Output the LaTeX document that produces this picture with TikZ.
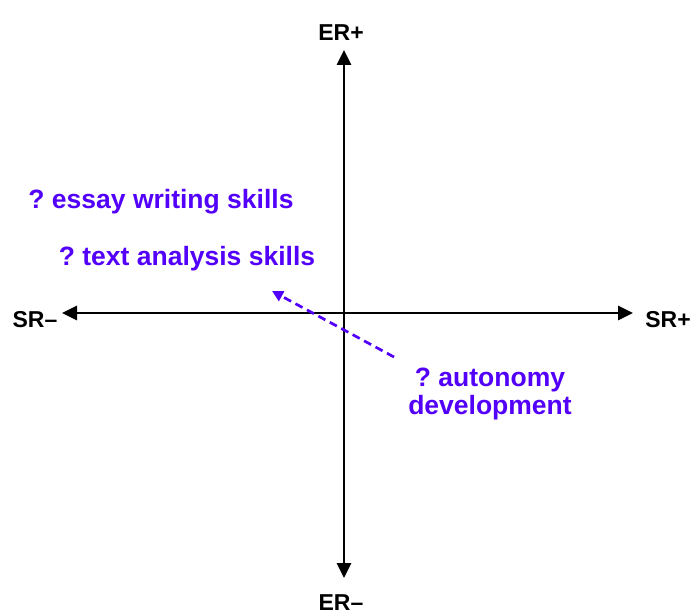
\documentclass[tikz,border=0pt]{standalone}
\usepackage{fontspec}
\setmainfont{Liberation Sans}
\usetikzlibrary{arrows.meta}
\definecolor{skillviolet}{RGB}{82,0,250}
\frenchspacing

\begin{document}
\begin{tikzpicture}[
    x=1pt, y=-1pt,
    axislabel/.style={font=\fontsize{23}{27}\selectfont\bfseries, text=black, inner sep=0pt},
    skill/.style={font=\fontsize{26.5}{28}\selectfont\bfseries, text=skillviolet, align=center, inner sep=0pt},
    axis/.style={{Triangle[length=15pt,width=14pt]}-{Triangle[length=15pt,width=14pt]}, line width=2.8pt},
    hint/.style={-{Triangle[length=11pt,width=11pt]}, line width=2.7pt, skillviolet, dash pattern=on 8pt off 5pt}
]
\useasboundingbox (0,0) rectangle (690,615);
% axis ends
\coordinate (ertop) at (344,50);
\coordinate (erbot) at (344,578);
\coordinate (srleft) at (62,313);
\coordinate (srright) at (633,313);
\node[axislabel] (erplus) at (341,33) {ER+};
\node[axislabel] (erminus) at (341,603) {ER–};
\node[axislabel] (srminus) at (35,320) {SR–};
\node[axislabel] (srplus) at (668,320) {SR+};
\draw[axis] (ertop) -- (erbot);
\draw[axis] (srleft) -- (srright);
% skills
\node[skill] (essay) at (161,202) {? essay writing skills};
\node[skill] (text) at (187,259) {? text analysis skills};
\node[skill] (auto) at (490,394) {? autonomy\\development};
\coordinate (hinttail) at (394,357);
\coordinate (hinthead) at (272,291);
\draw[hint] (hinttail) -- (hinthead);
\end{tikzpicture}
\end{document}
